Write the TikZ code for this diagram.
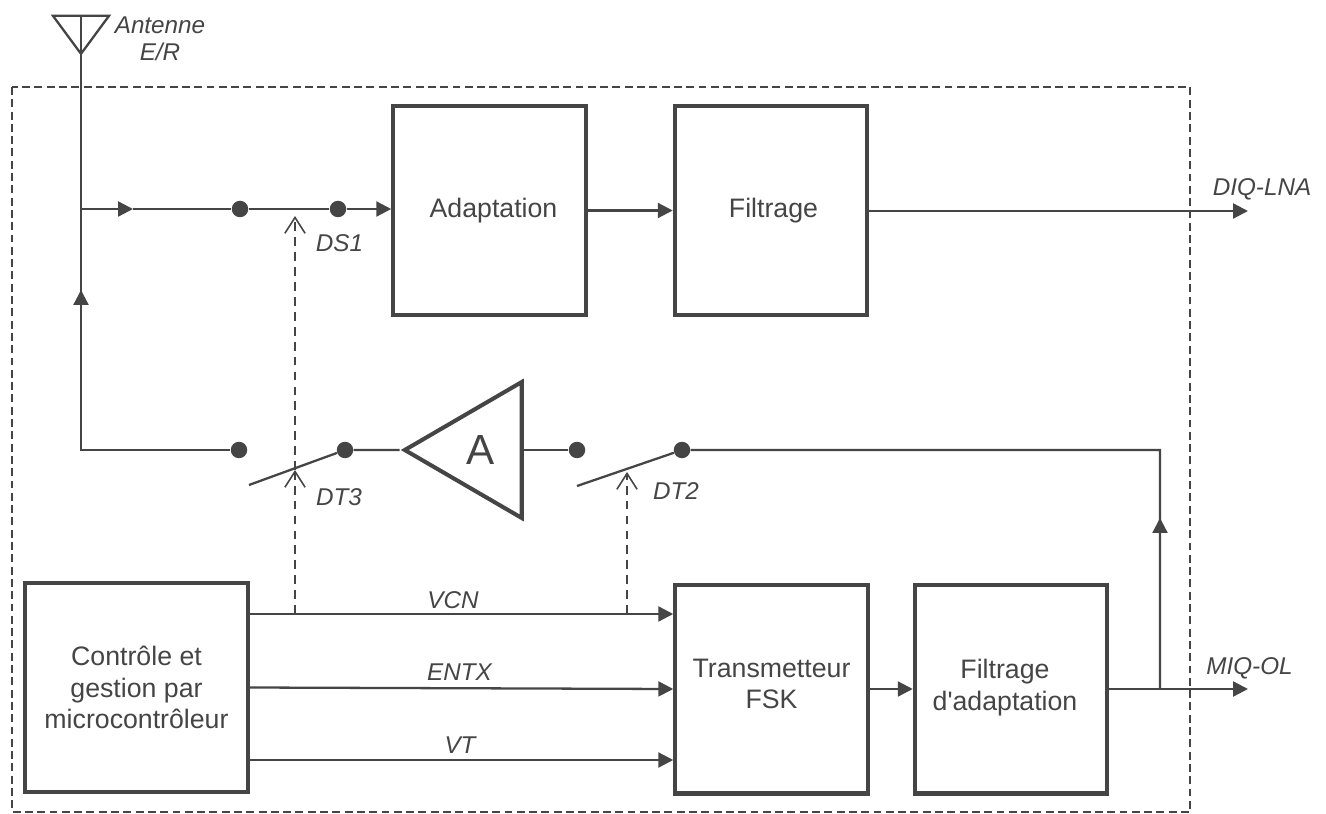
\documentclass[tikz,border=0pt]{standalone}
\usepackage{fontspec}
\setmainfont{Liberation Sans}
\usepackage{xcolor}
\definecolor{rfink}{HTML}{454545}
\usetikzlibrary{arrows.meta,positioning,shapes.geometric,calc}

\begin{document}
\begin{tikzpicture}[x=0.02cm,y=-0.02cm,color=rfink,text=rfink,>={Triangle[length=8.5pt,width=8.5pt]},
  blockbox/.style={draw,line width=2.3pt,minimum width=3.85cm,minimum height=4.18cm,align=center,font=\fontsize{15.2}{17.7}\selectfont},
  wire/.style={line width=1.3pt},
  ctrl/.style={line width=0.9pt,dash pattern=on 5pt off 3.5pt,-{Straight Barb[length=9pt,width=11.5pt,line width=0.9pt]}},
  contact/.style={circle,fill,inner sep=0pt,minimum size=0.33cm},
  siglabel/.style={font=\fontsize{13.8}{15.5}\selectfont\itshape,align=center,inner sep=0pt}]
\useasboundingbox (0,0) rectangle (1326,814);
\fill[white] (0,0) rectangle (1326,814);
\draw[line width=0.7pt,dash pattern=on 4.5pt off 2.5pt] (12,87) rectangle (1190,812);

% blocs
\node[blockbox] (adapt) at (489.5,210.5) {\hspace*{0.16cm}\raisebox{3.6pt}{Adaptation}};
\node[blockbox,right=1.7cm of adapt] (filt) {\hspace*{0.1cm}\raisebox{3.4pt}{Filtrage}};
\node[blockbox,minimum width=4.46cm] (ctl) at (136.5,687.5) {Contrôle et\\gestion par\\microcontrôleur};
\node[blockbox] (tx) at (771.5,689) {\raisebox{5.5pt}{Transmetteur}\\\raisebox{5.5pt}{FSK}};
\node[blockbox] (fad) at (1011,689) {\raisebox{4.8pt}{Filtrage}\hspace*{0.24cm}\\\raisebox{4.8pt}{d\textquotesingle adaptation}\hspace*{0.24cm}};
\node[draw,line width=2.3pt,isosceles triangle,isosceles triangle stretches,shape border rotate=180,
  minimum height=2.34cm,minimum width=2.72cm,inner sep=0pt,font=\fontsize{24}{24}\selectfont] (amp) at (485,450) {A\hspace*{0.16cm}};
\node[draw,line width=1.3pt,isosceles triangle,isosceles triangle stretches,shape border rotate=270,
  minimum height=0.76cm,minimum width=1.12cm,inner sep=0pt] (ant) at (81,30) {};

% contacts
\node[contact] (ds1a) at (240,209) {};
\node[contact] (ds1b) at (338,209) {};
\node[contact] (dt3a) at (239,450) {};
\node[contact] (dt3b) at (345,450) {};
\node[contact] (dt2a) at (577,450) {};
\node[contact] (dt2b) at (682,450) {};

% points de passage
\coordinate (rx) at (81,209);
\coordinate (rxarrow) at (133,209);
\coordinate (txin) at (81,450);
\coordinate (txarrow) at (81,290);
\coordinate (dt3end) at (249,485);
\coordinate (dt2end) at (577,486);
\coordinate (corner) at (1160,450);
\coordinate (tap) at (1160,689);
\coordinate (uparrow) at (1160,518);
\coordinate (lnaout) at (1248,211);
\coordinate (olout) at (1248,689);
\coordinate (vcntap3) at (295,614);
\coordinate (vcntap2) at (627,614);
\coordinate (vtline) at (295,760);
\coordinate (dt3tip) at (295,470);
\coordinate (ds1tip) at (295,216);
\coordinate (dt2tip) at (627,472);

% liaisons
\draw[wire] (ant.lower side) -- (ant.apex) -- (txin) -- (dt3a);
\draw[wire,->] (rx) -- (rxarrow);
\draw[wire] (rxarrow) -- (ds1a) -- (ds1b);
\draw[wire,->] (ds1b) -- (adapt.west |- ds1b);
\draw[wire,->] (adapt.east) -- (filt.west);
\draw[wire,->] (filt.east |- lnaout) -- (lnaout);
\draw[wire,->] (txin) -- (txarrow);
\draw[wire] (dt3end) -- (dt3b) -- (amp.apex);
\draw[wire] (amp.lower side) -- (dt2a);
\draw[wire] (dt2end) -- (dt2b) -- (corner) -- (tap);
\draw[wire,->] (tap) -- (uparrow);
\draw[wire,->] (fad.east |- olout) -- (olout);
\draw[wire,->] (tx.east) -- (fad.west);
\draw[wire,->] (ctl.east |- vcntap3) -- (tx.west |- vcntap3);
\draw[wire,->] (ctl.east) -- (tx.west);
\draw[wire,->] (ctl.east |- vtline) -- (tx.west |- vtline);
\draw[ctrl] (vcntap3) -- (dt3tip);
\draw[ctrl] (dt3tip) -- (ds1tip);
\draw[ctrl] (vcntap2) -- (dt2tip);

% textes
\node[siglabel] (antlab) at (160,38.5) {Antenne\\E/R};
\node[siglabel] (ds1lab) at (339.5,243) {DS1};
\node[siglabel] (dt3lab) at (339,497) {DT3};
\node[siglabel] (dt2lab) at (676,491) {DT2};
\node[siglabel] (lnalab) at (1262,189) {DIQ-LNA};
\node[siglabel] (ollab) at (1249.5,668) {MIQ-OL};
\node[siglabel] (vcnlab) at (453,600) {VCN};
\node[siglabel] (entxlab) at (459.5,672) {ENTX};
\node[siglabel] (vtlab) at (460,745) {VT};
\end{tikzpicture}
\end{document}
